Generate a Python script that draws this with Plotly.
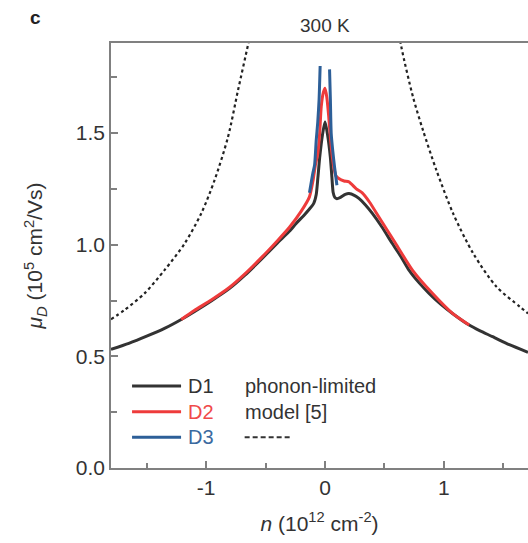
import plotly.graph_objects as go

# ---- data ----
n_d1 = [-1.80, -1.65, -1.50, -1.35, -1.209, -1.10, -0.957, -0.805, -0.676, -0.535, -0.40, -0.30,
        -0.243, -0.18, -0.131, -0.095, -0.074, -0.060, -0.045, -0.022, 0.0, 0.022, 0.045, 0.058,
        0.068, 0.082, 0.10, 0.13, 0.17, 0.201, 0.25, 0.285, 0.34, 0.398, 0.48, 0.566, 0.64, 0.706,
        0.79, 0.875, 0.97, 1.072, 1.212, 1.30, 1.409, 1.55, 1.707]
mu_d1 = [0.531, 0.558, 0.590, 0.625, 0.665, 0.700, 0.748, 0.803, 0.862, 0.935, 1.008, 1.060,
         1.095, 1.130, 1.160, 1.185, 1.225, 1.300, 1.390, 1.490, 1.550, 1.490, 1.390, 1.300,
         1.235, 1.212, 1.206, 1.212, 1.225, 1.229, 1.220, 1.207, 1.178, 1.140, 1.078, 1.005, 0.945,
         0.886, 0.830, 0.782, 0.735, 0.692, 0.640, 0.615, 0.588, 0.552, 0.518]

n_d2 = [-1.209, -1.10, -0.957, -0.805, -0.676, -0.535, -0.40, -0.299, -0.20, -0.131, -0.10, -0.08,
        -0.061, -0.045, -0.032, -0.015, 0.0, 0.015, 0.030, 0.050, 0.070, 0.090, 0.116, 0.160,
        0.201, 0.263, 0.313, 0.375, 0.453, 0.594, 0.735, 0.903, 1.072, 1.212]
mu_d2 = [0.665, 0.705, 0.752, 0.808, 0.868, 0.942, 1.018, 1.078, 1.150, 1.214, 1.290, 1.360,
         1.408, 1.500, 1.617, 1.680, 1.700, 1.660, 1.580, 1.450, 1.360, 1.310, 1.296, 1.285,
         1.281, 1.250, 1.232, 1.190, 1.124, 1.005, 0.886, 0.782, 0.692, 0.640]

n_d3 = [-0.131, -0.103, -0.088, -0.074, -0.061, -0.050, -0.041, None,
        0.038, 0.045, 0.052, 0.065, 0.080, 0.100]
mu_d3 = [1.232, 1.319, 1.356, 1.468, 1.550, 1.650, 1.800, None,
         1.785, 1.650, 1.497, 1.420, 1.348, 1.266]

n_model_left = [-1.80, -1.687, -1.518, -1.350, -1.181, -1.041, -0.929, -0.816, -0.732, -0.647, -0.60]
mu_model_left = [0.666, 0.707, 0.782, 0.886, 1.005, 1.140, 1.289, 1.482, 1.691, 1.897, 2.02]
n_model_right = [0.60, 0.642, 0.740, 0.824, 0.937, 1.077, 1.246, 1.443, 1.639, 1.707]
mu_model_right = [2.02, 1.885, 1.661, 1.512, 1.333, 1.140, 0.961, 0.811, 0.722, 0.692]

x_tickvals = [-1, 0, 1]
x_ticktext = ["-1", "0", "1"]
y_tickvals = [0.0, 0.5, 1.0, 1.5]
y_ticktext = ["0.0", "0.5", "1.0", "1.5"]

names = ["D1", "D2", "D3"]
colors = ["#333333", "#ee3b3b", "#2d5f98"]
text_colors = ["#333333", "#f04a4a", "#3a6aa0"]

FONT = "Liberation Sans, Arial, Helvetica, sans-serif"
LEG = 20

fig = go.Figure()
for nx, my in [(n_model_left, mu_model_left), (n_model_right, mu_model_right)]:
    fig.add_trace(go.Scatter(x=nx, y=my, mode="lines",
                             line=dict(color="#222222", width=2.2, dash="3px,3px", shape="spline", smoothing=0.8),
                             showlegend=False, hoverinfo="skip"))
for nx, my, c in [(n_d1, mu_d1, colors[0]), (n_d2, mu_d2, colors[1]), (n_d3, mu_d3, colors[2])]:
    fig.add_trace(go.Scatter(x=nx, y=my, mode="lines", connectgaps=False,
                             line=dict(color=c, width=3, shape="spline", smoothing=0.6),
                             showlegend=False))

# manual legend
leg_y = [0.193, 0.1325, 0.0722]
for i in range(3):
    fig.add_shape(type="line", xref="paper", yref="paper", x0=0.0505, x1=0.168, y0=leg_y[i], y1=leg_y[i],
                  line=dict(color=colors[i], width=3))
    fig.add_annotation(xref="paper", yref="paper", x=0.180, y=leg_y[i], xanchor="left", yanchor="middle",
                       text=names[i], showarrow=False, font=dict(size=LEG, color=text_colors[i], family=FONT))
fig.add_annotation(xref="paper", yref="paper", x=0.316, y=leg_y[0], xanchor="left", yanchor="middle",
                   text="phonon-limited", showarrow=False, font=dict(size=LEG, color="#333333", family=FONT))
fig.add_annotation(xref="paper", yref="paper", x=0.316, y=leg_y[1], xanchor="left", yanchor="middle",
                   text="model [5]", showarrow=False, font=dict(size=LEG, color="#333333", family=FONT))
fig.add_shape(type="line", xref="paper", yref="paper", x0=0.3205, x1=0.4327, y0=leg_y[2], y1=leg_y[2],
              line=dict(color="#333333", width=2, dash="5px,3px"))

fig.add_annotation(xref="x", yref="paper", x=0, y=1.04, text="300 K", showarrow=False,
                   xanchor="center", yanchor="middle", font=dict(size=19, color="#333333", family=FONT))
fig.add_annotation(xref="paper", yref="paper", x=-0.20, y=1.06, text="<b>c</b>", showarrow=False,
                   xanchor="left", yanchor="middle", font=dict(size=19, color="#222222", family=FONT))

fig.update_layout(
    width=528, height=543,
    margin=dict(l=111, r=0, t=43, b=75),
    paper_bgcolor="white", plot_bgcolor="white",
    font=dict(family=FONT, color="#333333", size=21),
    showlegend=False,
)
fig.update_xaxes(range=[-1.80, 1.707], showgrid=False, zeroline=False, automargin=False,
                 showline=True, linecolor="#808080", linewidth=1.5, mirror=True,
                 ticks="inside", ticklen=7, tickcolor="#808080", tickwidth=1.5,
                 tickvals=x_tickvals, ticktext=x_ticktext, tickfont=dict(size=21),
                 minor=dict(dtick=0.5, tick0=0, ticks="inside", ticklen=5, tickcolor="#808080", tickwidth=1.5),
                 title=dict(text="<i>n</i> (10<sup>12</sup> cm<sup>-2</sup>)", font=dict(size=21), standoff=18))
fig.update_yaxes(range=[0, 1.903], showgrid=False, zeroline=False, automargin=False,
                 showline=True, linecolor="#808080", linewidth=1.5, mirror=False,
                 ticks="inside", ticklen=7, tickcolor="#808080", tickwidth=1.5,
                 tickvals=y_tickvals, ticktext=y_ticktext, tickfont=dict(size=21),
                 minor=dict(dtick=0.25, tick0=0, ticks="inside", ticklen=6, tickcolor="#808080", tickwidth=1.5),
                 title=dict(text="<i>μ<sub>D</sub></i> (10<sup>5</sup> cm<sup>2</sup>/Vs)", font=dict(size=21), standoff=27))

fig.write_html("out.html", config={"displayModeBar": False},
               post_script="document.body.style.margin='0';")
